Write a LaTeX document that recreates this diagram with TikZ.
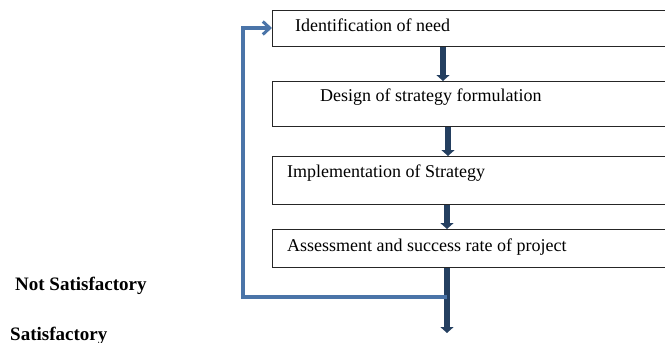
\documentclass[tikz,border=0pt]{standalone}
\usepackage{fontspec}
\setmainfont{Liberation Serif}
\usetikzlibrary{arrows.meta}
\definecolor{darkarrow}{HTML}{243F60}
\definecolor{loopblue}{HTML}{4A74A8}
\tikzset{
  stagebox/.style={draw=black!85, line width=1.3pt, rectangle, anchor=north west, inner sep=0pt},
  stagetext/.style={anchor=base west, inner sep=0pt, font=\fontsize{18}{20}\selectfont},
  sidetext/.style={anchor=base west, inner sep=0pt, font=\fontsize{19}{21}\selectfont\bfseries},
  flowarrow/.style={draw=darkarrow, line width=6pt, -{Triangle[width=13pt,length=6pt]}},
  looparrow/.style={draw=loopblue, line width=3.2pt, -{Straight Barb[width=13pt,length=7pt,line width=3pt]}}
}
\begin{document}
\begin{tikzpicture}[x=1pt,y=-1pt]
\useasboundingbox (0,0) rectangle (665,343);
\clip (0,0) rectangle (665,343);
\node[stagebox, minimum width=398pt, minimum height=36pt] (b1) at (272,10) {};
\node[stagebox, minimum width=398pt, minimum height=45pt] (b2) at (272,81) {};
\node[stagebox, minimum width=398pt, minimum height=48pt] (b3) at (272,156) {};
\node[stagebox, minimum width=398pt, minimum height=38pt] (b4) at (272,229) {};
\node[stagetext] (t1) at (295,31) {Identification of need};
\node[stagetext] (t2) at (320,101) {Design of strategy formulation};
\node[stagetext] (t3) at (287,177) {Implementation of Strategy};
\node[stagetext] (t4) at (287,251) {Assessment and success rate of project};
\node[sidetext] (ns) at (15,290) {Not Satisfactory};
\node[sidetext] (sa) at (10,340) {Satisfactory};
\coordinate (j) at (447,297);
\coordinate (e) at (447,333);
\coordinate (lc) at (243,297);
\coordinate (tc) at (243,28);
\draw[flowarrow] (b1.south -| 443,0) -- (b2.north -| 443,0);
\draw[flowarrow] (b2.south -| 448,0) -- (b3.north -| 448,0);
\draw[flowarrow] (b3.south -| 447,0) -- (b4.north -| 447,0);
\draw[flowarrow] (b4.south -| 447,0) -- (e);
\draw[looparrow] (j) -- (lc) -- (tc) -- (tc -| b1.west);
\end{tikzpicture}
\end{document}
